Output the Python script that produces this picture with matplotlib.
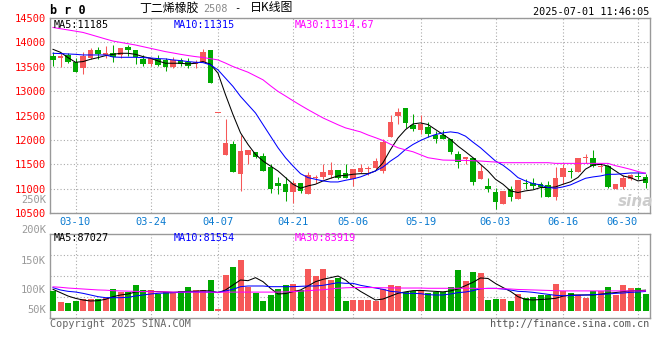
"""
Daily K-line chart for BR0 (butadiene rubber 2508), Sina style.
Saves out.png (660x360).
"""
import matplotlib
matplotlib.use("Agg")
import numpy as np
import matplotlib.pyplot as plt

plt.rcParams["font.family"] = ["DejaVu Sans Mono", "Noto Sans CJK SC"]

dates = [
    "03-05", "03-06", "03-07", "03-10", "03-11", "03-12", "03-13", "03-14", "03-17", "03-18",
    "03-19", "03-20", "03-21", "03-24", "03-25", "03-26", "03-27", "03-28", "03-31", "04-01",
    "04-02", "04-03", "04-07", "04-08", "04-09", "04-10", "04-11", "04-14", "04-15", "04-16",
    "04-17", "04-18", "04-21", "04-22", "04-23", "04-24", "04-25", "04-28", "04-29", "04-30",
    "05-06", "05-07", "05-08", "05-09", "05-12", "05-13", "05-14", "05-15", "05-16", "05-19",
    "05-20", "05-21", "05-22", "05-23", "05-26", "05-27", "05-28", "05-29", "05-30", "06-03",
    "06-04", "06-05", "06-06", "06-09", "06-10", "06-11", "06-12", "06-13", "06-16", "06-17",
    "06-18", "06-19", "06-20", "06-23", "06-24", "06-25", "06-26", "06-27", "06-30", "07-01",
]

opens = [
    13728, 13687, 13735, 13606, 13483, 13674, 13844, 13748, 13776, 13750,
    13905, 13844, 13667, 13558, 13667, 13633, 13504, 13640, 13599, 13558,
    13606, 13850, 12550, 11688, 11919, 11294, 11688, 11749, 11661, 11443,
    11110, 11090, 10933, 11110, 10886, 11226, 11239, 11287, 11382, 11321,
    11192, 11341, 11396, 11423, 11362, 12062, 12497, 12654, 12314, 12212,
    12273, 12103, 12096, 12028, 11702, 11606, 11634, 11198, 11062, 10926,
    10682, 10988, 10797, 11124, 11124, 11090, 11069, 10831, 11239, 11348,
    11341, 11620, 11634, 11443, 11464, 11001, 11035, 11198, 11266, 11246,
]
highs = [
    13796, 13776, 13776, 13687, 13796, 13891, 13905, 13925, 13952, 13884,
    13946, 13844, 13735, 13687, 13742, 13674, 13701, 13687, 13687, 13640,
    13857, 13850, 12550, 12436, 11987, 12110, 11790, 11749, 11729, 11511,
    11246, 11246, 11178, 11124, 11348, 11273, 11511, 11552, 11382, 11498,
    11396, 11511, 11464, 11620, 12028, 12518, 12654, 12654, 12538, 12518,
    12361, 12178, 12212, 12028, 11770, 11654, 11634, 11484, 11212, 11022,
    10954, 11056, 11171, 11192, 11212, 11137, 11158, 11436, 11511, 11430,
    11620, 11702, 11783, 11518, 11477, 11090, 11280, 11307, 11334, 11294,
]
lows = [
    13524, 13490, 13585, 13388, 13361, 13653, 13667, 13687, 13606, 13680,
    13714, 13565, 13524, 13524, 13524, 13415, 13470, 13524, 13470, 13470,
    13606, 13157, 12550, 11688, 11341, 10953, 11498, 11620, 11362, 10920,
    10886, 10736, 10695, 10906, 10886, 11110, 11192, 11226, 11192, 11226,
    11056, 11321, 11273, 11396, 11321, 12062, 12327, 12246, 12178, 12123,
    12055, 11933, 12008, 11715, 11416, 11511, 11076, 11198, 10926, 10580,
    10682, 10750, 10797, 10988, 11001, 10838, 10831, 10770, 11090, 11226,
    11341, 11525, 11443, 11348, 11022, 11001, 11001, 11171, 11192, 11008,
]
closes = [
    13640, 13714, 13606, 13402, 13714, 13850, 13755, 13776, 13701, 13875,
    13850, 13694, 13565, 13687, 13538, 13490, 13640, 13551, 13524, 13599,
    13810, 13157, 12550, 11926, 11341, 11763, 11790, 11654, 11362, 10988,
    11056, 10933, 11124, 10954, 11280, 11246, 11334, 11375, 11226, 11226,
    11396, 11430, 11430, 11559, 11960, 12375, 12579, 12341, 12232, 12320,
    12130, 12014, 12014, 11742, 11545, 11654, 11137, 11362, 10994, 10729,
    10954, 10838, 11171, 11103, 11056, 11042, 10831, 11212, 11416, 11334,
    11620, 11627, 11464, 11464, 11035, 11090, 11226, 11280, 11246, 11124,
]

ma5 = [
    13857, 13796, 13687, 13592, 13606, 13653, 13687, 13728, 13755, 13776,
    13776, 13755, 13708, 13674, 13619, 13572, 13572, 13572, 13558, 13572,
    13606, 13551, 13368, 12926, 12518, 12144, 11906, 11702, 11566, 11464,
    11362, 11226, 11090, 11008, 11056, 11090, 11158, 11212, 11260, 11273,
    11294, 11307, 11307, 11362, 11532, 11800, 12040, 12210, 12327, 12348,
    12314, 12212, 12110, 12008, 11872, 11756, 11634, 11498, 11362, 11192,
    11090, 10954, 10920, 10954, 10974, 11022, 11022, 11035, 11090, 11140,
    11230, 11400, 11484, 11498, 11464, 11362, 11260, 11226, 11158, 11185,
]
ma10 = [
    13776, 13770, 13762, 13755, 13742, 13742, 13742, 13742, 13700, 13694,
    13694, 13694, 13687, 13680, 13667, 13660, 13640, 13626, 13606, 13592,
    13585, 13538, 13436, 13266, 13096, 12892, 12722, 12552, 12314, 12076,
    11838, 11634, 11464, 11307, 11226, 11192, 11158, 11137, 11137, 11171,
    11200, 11240, 11300, 11362, 11443, 11566, 11668, 11804, 11906, 11987,
    12055, 12110, 12144, 12164, 12144, 12076, 11953, 11838, 11702, 11566,
    11480, 11362, 11226, 11158, 11103, 11076, 11022, 11008, 11035, 11076,
    11144, 11212, 11240, 11260, 11294, 11294, 11307, 11321, 11321, 11315,
]
ma30 = [
    14306, 14280, 14255, 14230, 14204, 14160, 14115, 14070, 14027, 14000,
    13973, 13946, 13912, 13878, 13844, 13810, 13783, 13755, 13730, 13708,
    13690, 13665, 13640, 13575, 13504, 13446, 13388, 13310, 13232, 13110,
    12994, 12900, 12803, 12710, 12620, 12535, 12450, 12380, 12310, 12246,
    12205, 12164, 12100, 12045, 11987, 11910, 11838, 11795, 11756, 11695,
    11634, 11610, 11586, 11583, 11580, 11579, 11572, 11566, 11555, 11545,
    11532, 11532, 11532, 11532, 11532, 11532, 11532, 11518, 11518, 11518,
    11518, 11518, 11518, 11518, 11518, 11470, 11435, 11396, 11350, 11314.67,
]

# volume in thousands of lots
volume = [
    84, 39, 35, 43, 50, 50, 50, 56, 92, 81,
    79, 109, 88, 88, 71, 79, 79, 84, 100, 88,
    88, 130, 8, 150, 184, 213, 100, 75, 43, 67,
    92, 109, 113, 88, 176, 148, 176, 130, 138, 43,
    46, 46, 46, 42, 92, 109, 105, 78, 84, 88,
    74, 78, 78, 100, 171, 125, 163, 159, 46, 50,
    50, 42, 71, 53, 59, 67, 67, 113, 84, 74,
    67, 54, 84, 84, 100, 67, 109, 95, 95, 70,
]
vol_ma5 = [
    90.6, 76.6, 62.7, 52.9, 46.0, 41.8, 43.2, 48.8, 59.9, 66.9,
    71.1, 79.4, 82.2, 82.2, 80.8, 79.4, 78.0, 79.4, 82.2, 82.2,
    85.0, 83.6, 76.6, 87.8, 108.7, 129.6, 126.8, 139.3, 122.6, 94.7,
    71.1, 73.0, 80.8, 87.8, 104.5, 122.6, 132.4, 139.3, 146.3, 129.6,
    103, 82, 64, 46, 50, 62, 74, 80, 85, 86,
    84, 82, 80, 84, 92, 106, 120, 138, 136, 115,
    98, 82, 60, 48, 46, 48, 50, 53, 62, 67,
    67, 67, 67, 70, 74, 77, 81, 84, 85, 87.027,
]
vol_ma10 = [
    97.5, 87.8, 82.2, 79.4, 73.8, 66.9, 59.9, 55.7, 55.7, 55.7,
    57.1, 62.7, 66.9, 71.1, 73.8, 75.2, 76.6, 78.0, 79.4, 79.4,
    79.4, 79.4, 78.0, 83.6, 90.6, 101.7, 104.5, 104.5, 104.5, 101.7,
    101.7, 101.7, 101.7, 103.1, 104.5, 104.5, 107.3, 112.9, 118.4, 115.6,
    115.6, 107.3, 101.7, 96.1, 90.6, 82.2, 79.4, 73.8, 73.8, 72.5,
    68.3, 66.9, 66.9, 71.1, 76.6, 79.4, 85.0, 93.3, 94.7, 94.7,
    92.0, 87.8, 82.2, 80.8, 78.0, 73.8, 69.7, 65.5, 64.1, 64.1,
    65.5, 66.9, 68.3, 69.7, 71.1, 73.8, 75.2, 78.0, 79.4, 81.554,
]
vol_ma30 = [
    101, 99, 96, 94, 92, 90, 88, 87, 85, 84,
    83, 82, 81, 81, 80, 80, 79, 79, 79, 79,
    79, 79, 78, 79, 79, 79, 79, 79, 79, 79,
    79, 80, 81, 83, 85, 87, 89, 92, 95, 97,
    98, 98, 98, 98, 97, 97, 96, 96, 96, 96,
    95, 95, 95, 95, 95, 95, 95, 94, 94, 94,
    93, 92, 90, 89, 88, 87, 86, 85, 84, 84,
    84, 84, 84, 84, 84, 84, 84, 84, 84, 83.919,
]

tick_dates = ["03-10", "03-24", "04-07", "04-21", "05-06", "05-19", "06-03", "06-16", "06-30"]
price_ticks = [10500, 11000, 11500, 12000, 12500, 13000, 13500, 14000, 14500]
vol_labels = ["250K", "200K", "150K", "100K", "50K"]

RED = "#f65858"
GREEN = "#00a800"
FRAME = "#999999"
GRID = "#aaaaaa"
DATE_BLUE = "#0a7ad0"
W, H = 660, 360
LW = 0.75


def fx(x):
    return x / W


def fy(y):
    return 1 - y / H


fig = plt.figure(figsize=(6.6, 3.6), dpi=100)
ax = fig.add_axes([fx(50), fy(213), 600 / W, 195 / H])
axv = fig.add_axes([fx(50), fy(318), 600 / W, 84 / H])

x = np.arange(len(dates))
o, h, l, c = map(np.array, (opens, highs, lows, closes))
cols = np.where(c >= o, RED, GREEN)
tick_pos = [dates.index(d) for d in tick_dates]

# price panel
ax.vlines(x, l, h, colors=cols, lw=LW, zorder=3)
ax.bar(x, np.maximum(np.abs(c - o), 20), bottom=np.minimum(o, c), width=0.72,
       color=cols, lw=0, zorder=3)
ax.plot(x, ma5, color="black", lw=LW, zorder=4)
ax.plot(x, ma10, color="#0000ff", lw=LW, zorder=4)
ax.plot(x, ma30, color="#ff00ff", lw=LW, zorder=4)
ax.set_xlim(-0.4, len(dates) - 0.4)
ax.set_ylim(price_ticks[0], price_ticks[-1])
ax.set_yticks(price_ticks)
ax.set_xticks(tick_pos)
ax.set_xticklabels(tick_dates)
ax.tick_params(axis="y", length=0, pad=3, labelsize=7.5, labelcolor="#ff0000")
ax.tick_params(axis="x", length=0, pad=3, labelsize=7.5, labelcolor=DATE_BLUE)
ax.get_xticklabels()[-1].set_horizontalalignment("right")
ax.grid(True, ls=(0, (1, 2)), color=GRID, lw=0.8)

# volume panel
axv.bar(x, volume, width=0.8, color=cols, lw=0, zorder=3)
axv.plot(x, vol_ma5, color="black", lw=LW, zorder=4)
axv.plot(x, vol_ma10, color="#0000ff", lw=LW, zorder=4)
axv.plot(x, vol_ma30, color="#ff00ff", lw=LW, zorder=4)
axv.set_xlim(-0.4, len(dates) - 0.4)
vlo, vhi = -29.3, 321.9
axv.set_ylim(vlo, vhi)
axv.set_xticks(tick_pos)
axv.set_xticklabels([])
axv.set_yticks([vlo + f * (vhi - vlo) for f in (0.25, 0.5, 0.75)])
axv.set_yticklabels([])
axv.tick_params(length=0)
axv.grid(True, ls=(0, (1, 2)), color=GRID, lw=0.8)

for a in (ax, axv):
    a.set_axisbelow(True)
    for s in a.spines.values():
        s.set_color(FRAME)
        s.set_linewidth(1.0)

# volume axis labels (Sina places them loosely)
for lab, y in zip(vol_labels, [200, 230, 261, 290, 310]):
    fig.text(fx(46), fy(y), lab, ha="right", va="center", color="#999999", fontsize=7.5)

# legends
fs = 7.3
fig.text(fx(54), fy(25), f"MA5:{ma5[-1]:.0f}", color="black", fontsize=fs, va="center")
fig.text(fx(174), fy(25), f"MA10:{ma10[-1]:.0f}", color="#0000ff", fontsize=fs, va="center")
fig.text(fx(295), fy(25), f"MA30:{ma30[-1]:.2f}", color="#ff00ff", fontsize=fs, va="center")
fig.text(fx(54), fy(238), f"MA5:{vol_ma5[-1] * 1000:.0f}", color="black", fontsize=fs, va="center")
fig.text(fx(174), fy(238), f"MA10:{vol_ma10[-1] * 1000:.0f}", color="#0000ff", fontsize=fs, va="center")
fig.text(fx(295), fy(238), f"MA30:{vol_ma30[-1] * 1000:.0f}", color="#ff00ff", fontsize=fs, va="center")

# header
fig.text(fx(50), fy(11), "b r 0", fontsize=8.5, fontweight="bold", va="center")
fig.text(fx(139), fy(8), "丁二烯橡胶", fontsize=8.6, va="center", family=["Noto Sans CJK SC"])
fig.text(fx(203), fy(8.5), "2508", fontsize=7.3, color="#888888", va="center")
fig.text(fx(234), fy(8.5), "-", fontsize=7.5, va="center")
fig.text(fx(250), fy(8), "日K线图", fontsize=8.6, va="center", family=["Noto Sans CJK SC"])
fig.text(fx(649), fy(12), "2025-07-01 11:46:05", fontsize=7.3, ha="right", va="center")

# footer and watermark
fig.text(fx(50), fy(324), "Copyright 2025 SINA.COM", fontsize=7.3, color="#666666", va="center")
fig.text(fx(649), fy(324), "http://finance.sina.com.cn", fontsize=7.3, color="#555555",
         ha="right", va="center")
fig.text(fx(636), fy(201), "sina", fontsize=11, color="#cccccc", ha="center", va="center",
         style="italic", fontweight="bold", family=["DejaVu Sans"])

fig.savefig("out.png", dpi=100)
